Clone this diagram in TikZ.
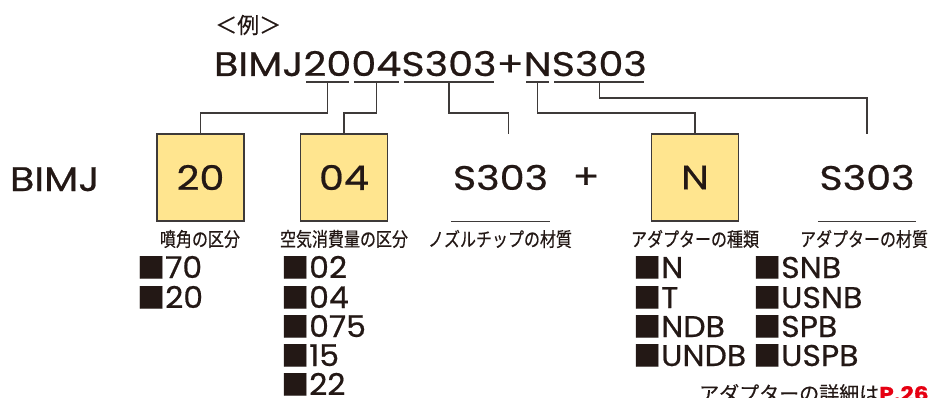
\documentclass[tikz,border=0pt]{standalone}
\usepackage{fontspec}
\setmainfont{Poppins}[FakeStretch=1.17, FakeBold=0.6]
\newfontfamily\itemfont{Poppins}[FakeStretch=1.05, FakeBold=0.6]
\newfontfamily\jpfont{Noto Sans CJK JP}[FakeBold=0.4]
\newfontfamily\jplabelfont{Noto Sans CJK JP}[FakeStretch=0.82, FakeBold=0.4]
\usetikzlibrary{positioning}
\definecolor{ink}{HTML}{231815}
\definecolor{boxfill}{HTML}{FFE58F}
\definecolor{linegray}{HTML}{3E3A39}
\definecolor{refred}{HTML}{E60012}
\newcommand{\sqmark}{{\jpfont\fontsize{28}{28}\selectfont ■}}
\tikzset{
  code/.style={inner sep=0pt, outer sep=0pt, anchor=base west, text=ink, font=\fontsize{34}{34}\selectfont},
  partbox/.style={draw=linegray, line width=1.3pt, fill=boxfill, minimum width=87pt, minimum height=87pt, inner sep=0pt, text=ink, font=\fontsize{34}{34}\selectfont},
  plainpart/.style={minimum width=98pt, minimum height=87pt, inner sep=0pt, text=ink, font=\fontsize{34}{34}\selectfont},
  partlabel/.style={inner sep=0pt, text=ink, font=\jplabelfont\fontsize{19.5}{19.5}\selectfont},
  item/.style={inner sep=0pt, anchor=base west, text=ink, font=\itemfont\fontsize{30}{30}\selectfont},
  uline/.style={draw=linegray, line width=1.1pt, shorten <=2.5pt, shorten >=2.5pt},
  leader/.style={draw=linegray, line width=1.1pt},
}
\begin{document}
\begin{tikzpicture}[x=1pt,y=1pt]
\useasboundingbox (0,0) rectangle (931,397);
% example heading and model code
\node[inner sep=0pt, anchor=west, text=ink, font=\jpfont\fontsize{22}{22}\selectfont] (ex) at (215,372) {＜例＞};
\node[code] (cBIMJ) at (214,321) {BIMJ};
\node[code, base right=0pt of cBIMJ] (c20) {20};
\node[code, base right=0pt of c20] (c04) {04};
\node[code, base right=0pt of c04] (cS303) {S303};
\node[code, base right=0pt of cS303] (cplus) {+};
\node[code, base right=0pt of cplus] (cN) {N};
\node[code, base right=0pt of cN] (cS303b) {S303};
\draw[uline] ([yshift=-6pt]c20.base west) -- ([yshift=-6pt]c20.base east);
\draw[uline] ([yshift=-6pt]c04.base west) -- ([yshift=-6pt]c04.base east);
\draw[uline] ([yshift=-6pt]cS303.base west) -- ([yshift=-6pt]cS303.base east);
\draw[uline] ([yshift=-6pt]cN.base west) -- ([yshift=-6pt]cN.base east);
\draw[uline] ([yshift=-6pt]cS303b.base west) -- ([yshift=-6pt]cS303b.base east);
\coordinate (u20) at ([yshift=-6pt]c20.base);
\coordinate (u04) at ([yshift=-6pt]c04.base);
\coordinate (uS303) at ([yshift=-6pt]cS303.base);
\coordinate (uN) at ([yshift=-6pt]cN.base);
\coordinate (uS303b) at ([yshift=-6pt]cS303b.base);
% broken down row
\node[code] (bimj) at (10,206) {BIMJ};
\node[partbox] (b20) at (200.5,219.5) {20};
\node[partbox] (b04) at (344,219.5) {04};
\node[plainpart] (pS303) at (500.5,219.5) {S303};
\node[inner sep=0pt, text=ink, font=\fontsize{34}{34}\selectfont] (plus) at (586,219) {+};
\node[partbox] (bN) at (695,219.5) {N};
\node[plainpart] (pS303b) at (867,219.5) {S303};
\draw[leader] (pS303.south west) -- (pS303.south east);
\draw[leader] (pS303b.south west) -- (pS303b.south east);
\coordinate (tS303) at ([xshift=8pt]pS303.north);
\coordinate (tS303b) at (pS303b.north);
% leaders
\draw[leader] (u20) -- ++(0,-31) -| (b20.north);
\draw[leader] (u04) -- ++(0,-31) -| (b04.north);
\draw[leader] (uS303) -- ++(0,-31) -| (tS303);
\draw[leader] (uN) -- ++(0,-31) -| (bN.north);
\draw[leader] (uS303b) -- ++(0,-16) -| (tS303b);
% labels
\node[partlabel] (l20) at (200,158) {噴角の区分};
\node[partlabel] (l04) at (344,158) {空気消費量の区分};
\node[partlabel] (lS303) at (500,158) {ノズルチップの材質};
\node[partlabel] (lN) at (695,158) {アダプターの種類};
\node[partlabel] (lS303b) at (864,158) {アダプターの材質};
% options
\node[item] (a70) at (137,119) {\sqmark 70};
\node[item] (a20) at (137,89) {\sqmark 20};
\node[item] (f02) at (281,119) {\sqmark 02};
\node[item] (f04) at (281,89) {\sqmark 04};
\node[item] (f075) at (281,60) {\sqmark 075};
\node[item] (f15) at (281,31) {\sqmark 15};
\node[item] (f22) at (281,2) {\sqmark 22};
\node[item] (tN) at (633,119) {\sqmark N};
\node[item] (tT) at (633,89) {\sqmark T};
\node[item] (tNDB) at (633,60) {\sqmark NDB};
\node[item] (tUNDB) at (633,31) {\sqmark UNDB};
\node[item] (mSNB) at (753,119) {\sqmark SNB};
\node[item] (mUSNB) at (753,89) {\sqmark USNB};
\node[item] (mSPB) at (753,60) {\sqmark SPB};
\node[item] (mUSPB) at (753,31) {\sqmark USPB};
% note
\node[inner sep=0pt, anchor=base west, text=ink, font=\jpfont\fontsize{20}{20}\selectfont] (note) at (699,-4) {アダプターの詳細は{\rmfamily\bfseries\color{refred}P.26}};
\end{tikzpicture}
\end{document}
